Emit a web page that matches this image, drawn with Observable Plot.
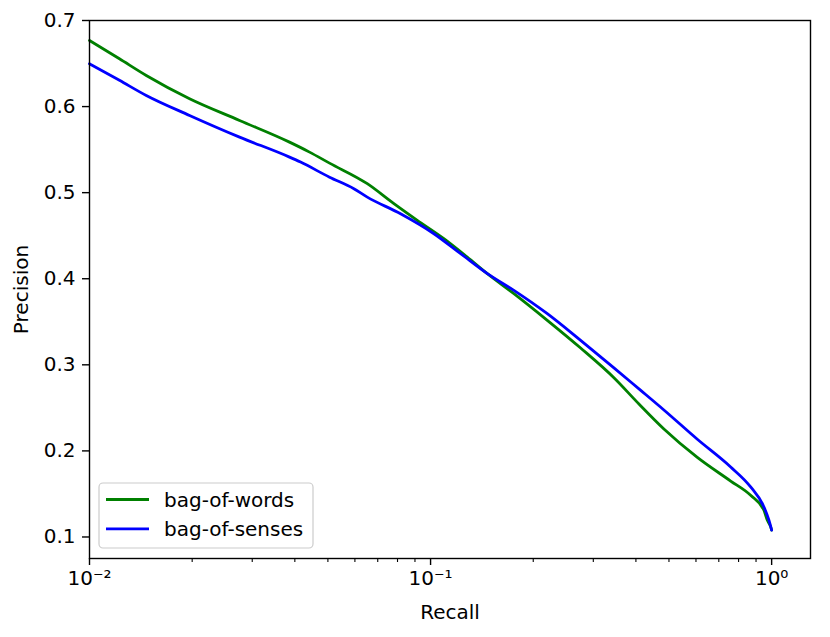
<!DOCTYPE html>
<html><head><meta charset="utf-8">
<script src="https://cdn.jsdelivr.net/npm/d3@7"></script>
<script src="https://cdn.jsdelivr.net/npm/@observablehq/plot@0.6"></script>
<style>body{margin:0;background:#fff}</style>
</head><body><div id="chart"></div>
<script>
const seriesNames = ["bag-of-words", "bag-of-senses"];
const seriesColors = ["#008000", "#0000ff"];

const wordsRecall    = [0.01, 0.01224, 0.01467, 0.01965, 0.02754, 0.03859, 0.04417, 0.05055, 0.06523, 0.07807, 0.09141, 0.1094, 0.1281, 0.1467, 0.1755, 0.2199, 0.2754, 0.3448, 0.4083, 0.4832, 0.6055, 0.7583, 0.8678, 0.9493, 0.9714, 0.993, 1.0];
const wordsPrecision = [0.6768, 0.6555, 0.6361, 0.6091, 0.5839, 0.5587, 0.5471, 0.5343, 0.5104, 0.4872, 0.4678, 0.4465, 0.4251, 0.4059, 0.3827, 0.3517, 0.3195, 0.2850, 0.2545, 0.2255, 0.1925, 0.1650, 0.1484, 0.1310, 0.1194, 0.1120, 0.1080];

const sensesRecall    = [0.01, 0.01224, 0.01467, 0.01965, 0.02754, 0.03859, 0.04157, 0.05055, 0.05958, 0.06523, 0.08166, 0.1023, 0.1225, 0.1467, 0.1755, 0.2199, 0.2754, 0.3448, 0.4083, 0.4832, 0.6055, 0.7583, 0.8678, 0.9493, 0.982, 1.0];
const sensesPrecision = [0.6497, 0.6305, 0.6129, 0.5897, 0.5645, 0.5413, 0.5355, 0.5180, 0.5046, 0.4948, 0.4755, 0.4523, 0.4291, 0.4059, 0.3865, 0.3594, 0.3284, 0.2965, 0.2720, 0.2475, 0.2135, 0.1813, 0.1581, 0.1349, 0.1194, 0.1080];

const yTicks = [0.1, 0.2, 0.3, 0.4, 0.5, 0.6, 0.7];
const xMajorTicks = [0.01, 0.1, 1];
const xTickLabels = ["10\u207B\u00B2", "10\u207B\u00B9", "10\u2070"];
const xMinorTicks = [0.02, 0.03, 0.04, 0.05, 0.06, 0.07, 0.08, 0.09, 0.2, 0.3, 0.4, 0.5, 0.6, 0.7, 0.8, 0.9];

const data = [
  ...wordsRecall.map((r, i) => ({series: seriesNames[0], recall: r, precision: wordsPrecision[i]})),
  ...sensesRecall.map((r, i) => ({series: seriesNames[1], recall: r, precision: sensesPrecision[i]}))
];

const chart = Plot.plot({
  width: 830, height: 637,
  marginLeft: 89, marginRight: 20, marginTop: 20, marginBottom: 79,
  style: {fontFamily: "DejaVu Sans", fontSize: "20px", background: "white", color: "black"},
  x: {type: "log", domain: [0.01, 1.3]},
  y: {domain: [0.075, 0.7]},
  color: {domain: seriesNames, range: seriesColors},
  marks: [
    Plot.line(data, {x: "recall", y: "precision", stroke: "series", strokeWidth: 2.8, curve: "monotone-x"}),
    Plot.axisX({ticks: xMinorTicks, tickSize: 4, tickFormat: () => "", strokeWidth: 1.1, label: null}),
    Plot.axisX({ticks: xMajorTicks, tickSize: 7, tickPadding: 5, strokeWidth: 1.4,
      tickFormat: d => xTickLabels[xMajorTicks.indexOf(d)],
      label: "Recall", labelAnchor: "center", labelArrow: "none", labelOffset: 60}),
    Plot.axisY({ticks: yTicks, tickSize: 7, tickPadding: 7, strokeWidth: 1.4,
      tickFormat: d3.format(".1f"),
      label: "Precision", labelAnchor: "center", labelArrow: "none", labelOffset: 76}),
    Plot.frame({stroke: "black", strokeWidth: 1.4})
  ]
});

// legend (inside the plot, lower left)
const svg = d3.select(chart);
const lg = svg.append("g").attr("font-family", "DejaVu Sans").attr("font-size", "20px").attr("text-anchor", "start");
lg.append("rect").attr("x", 99).attr("y", 483).attr("width", 214).attr("height", 65)
  .attr("rx", 4).attr("fill", "white").attr("fill-opacity", 0.8)
  .attr("stroke", "#cccccc").attr("stroke-width", 1.2);
seriesNames.forEach((name, i) => {
  const cy = 499.5 + i * 29.3;
  lg.append("line").attr("x1", 106).attr("x2", 149).attr("y1", cy).attr("y2", cy)
    .attr("stroke", seriesColors[i]).attr("stroke-width", 2.8);
  lg.append("text").attr("x", 164).attr("y", cy + 7).attr("fill", "black").text(name);
});

document.getElementById("chart").append(chart);
</script>
</body></html>
